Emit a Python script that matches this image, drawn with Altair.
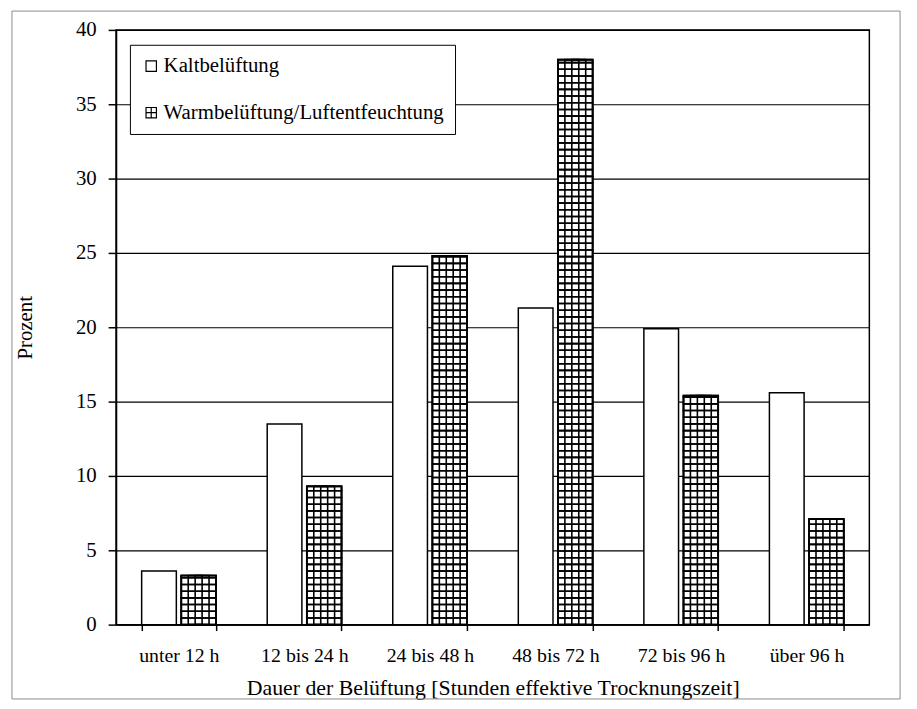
import altair as alt
import pandas as pd

categories = ["unter 12 h", "12 bis 24 h", "24 bis 48 h", "48 bis 72 h", "72 bis 96 h", "über 96 h"]
series = ["Kaltbelüftung", "Warmbelüftung/Luftentfeuchtung"]
kalt = [3.6, 13.5, 24.1, 21.3, 19.9, 15.6]
warm = [3.3, 9.3, 24.8, 38.0, 15.4, 7.1]
y_ticks = [0, 5, 10, 15, 20, 25, 30, 35, 40]

rows = []
for c, k, w in zip(categories, kalt, warm):
    rows.append({"cat": c, "series": series[0], "value": k})
    rows.append({"cat": c, "series": series[1], "value": w})
df = pd.DataFrame(rows)

# hatch pattern segments for the second series (decoration derived from its values)
HATCH = 0.45
hrows = []
for c, w in zip(categories, warm):
    k = 0
    while k * HATCH < w - 1e-9:
        hrows.append({"cat": c, "series": series[1], "y0": k * HATCH, "y1": min((k + 1) * HATCH, w)})
        k += 1
hdf = pd.DataFrame(hrows)
wdf = df[df.series == series[1]]

FONT = "Liberation Serif"
xenc = alt.X("cat:N", scale=alt.Scale(domain=categories, paddingInner=0.408, paddingOuter=0.204),
             axis=alt.Axis(title="Dauer der Belüftung [Stunden effektive Trocknungszeit]", labelAngle=0,
                           tickBand="extent", tickSize=6, labelPadding=15, titlePadding=12,
                           labelFontSize=20, titleFontSize=22))
xoff = alt.XOffset("series:N", scale=alt.Scale(domain=series, paddingInner=0.125, paddingOuter=0))
yscale = alt.Scale(domain=[0, 40], nice=False)

base_bars = alt.Chart(df).mark_bar(fill="white", stroke="black", strokeWidth=1.5).encode(
    x=xenc, xOffset=xoff,
    y=alt.Y("value:Q", scale=yscale,
            axis=alt.Axis(title="Prozent", values=y_ticks, grid=True, gridColor="black", gridWidth=1.2,
                          tickSize=8, labelPadding=12, titlePadding=40, labelFontSize=21, titleFontSize=21)),
)

hatch_h = alt.Chart(hdf).mark_bar(fill=None, stroke="black", strokeWidth=1.6).encode(
    x=alt.X("cat:N"), xOffset=alt.XOffset("series:N"),
    y=alt.Y("y0:Q", scale=yscale), y2="y1:Q",
)
hatch_v1 = alt.Chart(wdf).mark_bar(fill=None, stroke="black", strokeWidth=1.6, width=21).encode(
    x=alt.X("cat:N"), xOffset=alt.XOffset("series:N"), y=alt.Y("value:Q", scale=yscale),
)
hatch_v2 = alt.Chart(wdf).mark_bar(fill=None, stroke="black", strokeWidth=1.6, width=7).encode(
    x=alt.X("cat:N"), xOffset=alt.XOffset("series:N"), y=alt.Y("value:Q", scale=yscale),
)
outline = alt.Chart(wdf).mark_bar(fill=None, stroke="black", strokeWidth=1.8).encode(
    x=alt.X("cat:N"), xOffset=alt.XOffset("series:N"), y=alt.Y("value:Q", scale=yscale),
)

legend_pts = alt.Chart(df).mark_point(filled=False, color="black", strokeWidth=1.2, size=110).encode(
    x=alt.X("cat:N"), xOffset=alt.XOffset("series:N"), y=alt.Y("value:Q", scale=yscale),
    opacity=alt.value(0),
    shape=alt.Shape("series:N",
                    scale=alt.Scale(domain=series,
                                    range=["square",
                                           "M-1,-1H1V1H-1Z M0,-1V1 M-1,0H1"]),
                    legend=alt.Legend(title=None, orient="none", legendX=14, legendY=15,
                                      strokeColor="black", fillColor="white", padding=11,
                                      rowPadding=25, symbolSize=110, symbolStrokeWidth=1.2,
                                      symbolStrokeColor="black",
                                      symbolOpacity=1, labelFontSize=21, labelFont=FONT,
                                      labelColor="black", labelOffset=2, labelLimit=0)),
)

frame = alt.Chart(pd.DataFrame({"a": [0]})).mark_rect(fill=None, stroke="#8a8a8a", strokeWidth=1).encode(
    x=alt.value(-105), x2=alt.value(791), y=alt.value(-19), y2=alt.value(675)
)

chart = alt.layer(base_bars, hatch_h, hatch_v1, hatch_v2, outline, legend_pts, frame).properties(
    width=760, height=600,
    autosize=alt.AutoSizeParams(type="none"),
    padding={"left": 109, "top": 19, "right": 40, "bottom": 80},
    background="white",
).configure_view(stroke="black", strokeWidth=1.5).configure_axis(
    labelFont=FONT, titleFont=FONT, labelColor="black", titleColor="black",
    tickColor="black", domainColor="black", domainWidth=1.5, tickWidth=1.5, titleFontWeight="normal",
)

chart.save("out.html", embed_options={"renderer": "svg", "actions": False})
